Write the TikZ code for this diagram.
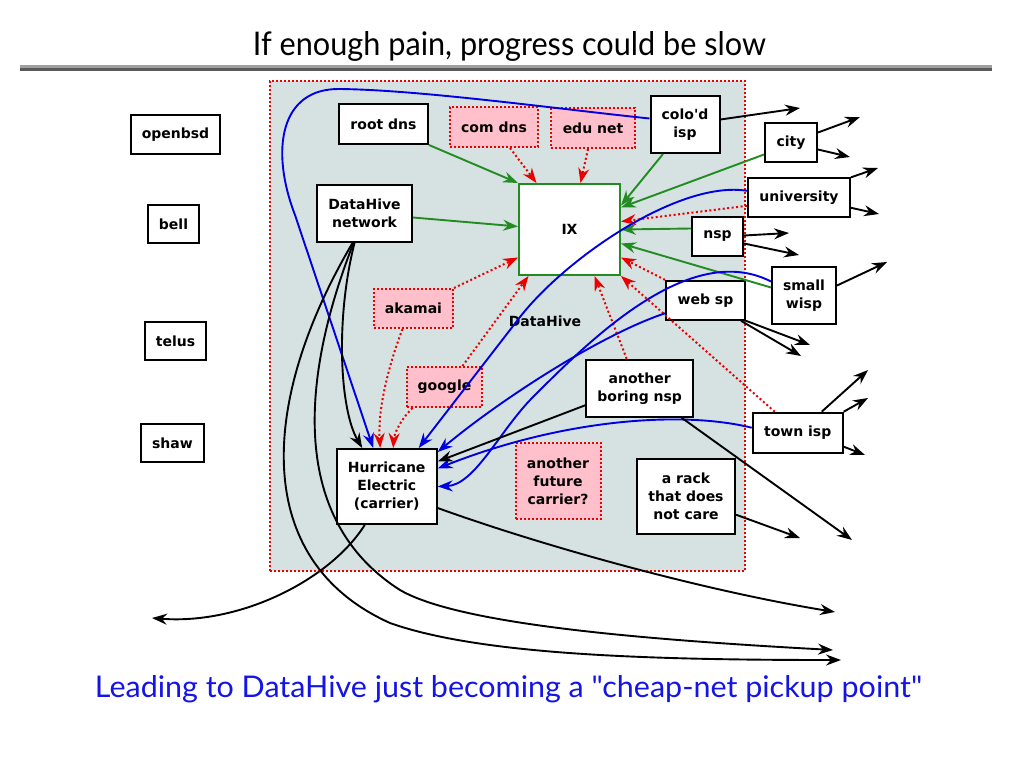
\documentclass[tikz,border=0pt]{standalone}
\usepackage{fontspec}
\usetikzlibrary{arrows.meta}
\newfontfamily\dvs{DejaVu Sans}
\newfontfamily\comicish{Lato}
\definecolor{dhfill}{RGB}{214,226,226}
\definecolor{pinkf}{RGB}{255,192,203}
\definecolor{dred}{RGB}{235,0,0}
\definecolor{dgreen}{RGB}{34,139,34}
\definecolor{dblue}{RGB}{0,0,225}
\definecolor{tblue}{RGB}{20,20,230}
\definecolor{rulelight}{RGB}{160,160,160}
\definecolor{ruledark}{RGB}{90,90,90}
\tikzset{
 lbl/.style={font=\dvs\bfseries\fontsize{14}{18}\selectfont, align=center, inner sep=0pt},
 box/.style={lbl, draw=black, line width=2pt, fill=white},
 pbox/.style={lbl, draw=dred, line width=2pt, dash pattern=on 2pt off 2pt, fill=pinkf},
 gbox/.style={lbl, draw=dgreen, line width=2pt, fill=white},
 region/.style={draw=dred, line width=2pt, dash pattern=on 2pt off 2pt, fill=dhfill, inner sep=0pt},
 arrowtip/.style={-{Stealth[length=15pt,width=11pt,inset=5pt]}},
 blk/.style={arrowtip, draw=black, line width=1.9pt},
 grn/.style={arrowtip, draw=dgreen, line width=1.9pt},
 blu/.style={arrowtip, draw=dblue, line width=1.9pt},
 rdd/.style={-{Stealth[length=15pt,width=11pt,inset=5pt,color=dred]}, draw=dred, line width=2pt, dash pattern=on 2pt off 2.5pt},
}
\begin{document}
\begin{tikzpicture}[x=1pt,y=-1pt]
\useasboundingbox (0,0) rectangle (1024,768);
\fill[white] (0,0) rectangle (1024,768);
% title and rule
\node[anchor=base, inner sep=0pt] (title) at (509.5,55) {\resizebox{513pt}{24pt}{\comicish If enough pain, progress could be slow}};
\fill[rulelight] (20,65) rectangle (992,68);
\fill[ruledark] (20,68) rectangle (992,71);
% region
\node[region, minimum width=475pt, minimum height=490pt] (dhregion) at (507.5,326) {};
% left nodes
\node[box, minimum width=89pt, minimum height=39pt] (openbsd) at (175.5,134.5) {openbsd};
\node[box, minimum width=51pt, minimum height=38pt] (bell) at (173.5,224) {bell};
\node[box, minimum width=61pt, minimum height=38pt] (telus) at (175.5,341) {telus};
\node[box, minimum width=63pt, minimum height=38pt] (shaw) at (172.5,443) {shaw};
% inner nodes
\node[box, minimum width=89pt, minimum height=40pt] (rootdns) at (383.5,124) {root dns};
\node[pbox, minimum width=88pt, minimum height=40pt] (comdns) at (494,127) {com dns};
\node[pbox, minimum width=84pt, minimum height=40pt] (edunet) at (593,128) {edu net};
\node[box, minimum width=69pt, minimum height=57pt] (colo) at (685,124.5) {colo'd\\isp};
\node[box, minimum width=95pt, minimum height=57pt] (dhn) at (364.5,213.5) {DataHive\\network};
\node[gbox, minimum width=101pt, minimum height=91pt] (ix) at (569.5,229.5) {IX};
\node[box, minimum width=51pt, minimum height=39pt] (nsp) at (717.5,236.5) {nsp};
\node[box, minimum width=79pt, minimum height=39pt] (websp) at (705.5,300.3) {web sp};
\node[pbox, minimum width=79pt, minimum height=39pt] (akamai) at (413.5,308.5) {akamai};
\node[lbl] (dhlabel) at (545,321) {DataHive};
\node[pbox, minimum width=75pt, minimum height=40pt] (google) at (444.5,387) {google};
\node[box, minimum width=107pt, minimum height=57pt] (boring) at (639.7,388.3) {another\\boring nsp};
\node[box, minimum width=100pt, minimum height=75pt] (HE) at (386.7,486.5) {Hurricane\\Electric\\(carrier)};
\node[pbox, minimum width=85pt, minimum height=76pt] (future) at (558,481) {another\\future\\carrier?};
\node[box, minimum width=98pt, minimum height=75pt] (rack) at (686,496.7) {a rack\\that does\\not care};
% right nodes
\node[box, minimum width=52pt, minimum height=39pt] (city) at (791,142.5) {city};
\node[box, minimum width=102pt, minimum height=39pt] (univ) at (799,197.8) {university};
\node[box, minimum width=64pt, minimum height=57pt] (wisp) at (804,295.5) {small\\wisp};
\node[box, minimum width=90pt, minimum height=40pt] (town) at (797.7,432.7) {town isp};
% free ends
\coordinate (ecolo) at (800,108);
\coordinate (ecity1) at (860,117);
\coordinate (ecity2) at (850,157);
\coordinate (euniv1) at (878,168);
\coordinate (euniv2) at (879,214);
\coordinate (ensp1) at (789,233);
\coordinate (ensp2) at (799,255);
\coordinate (ewisp) at (887,262);
\coordinate (eweb1) at (810,345);
\coordinate (eweb2) at (801,356);
\coordinate (etown1) at (868,370);
\coordinate (etown2) at (868,398);
\coordinate (etown3) at (865,455);
\coordinate (eboring) at (852,540);
\coordinate (erack) at (800,538);
\coordinate (ehe1) at (835,612);
\coordinate (ehe2) at (152,618);
\coordinate (ein) at (833,650);
\coordinate (eout) at (841,660);
% green
\draw[grn] (rootdns.south east) -- (ix.north west);
\draw[grn] ([yshift=-4pt]dhn.east) -- ([yshift=3pt]ix.west);
\draw[grn] ([xshift=-22pt]colo.south) -- ([yshift=24pt]ix.east);
\draw[grn] ([yshift=-12pt]city.west) -- ([yshift=22pt]ix.east);
\draw[grn] ([yshift=8pt]nsp.west) -- (ix.east);
\draw[grn] ([yshift=8pt]wisp.west) -- ([yshift=-14pt]ix.east);
% red dotted
\draw[rdd] ([xshift=16pt]comdns.south) -- ([xshift=-33pt]ix.north);
\draw[rdd] ([xshift=-5pt]edunet.south) -- ([xshift=11pt]ix.north);
\draw[rdd] ([yshift=-8pt]univ.west) -- ([yshift=8pt]ix.east);
\draw[rdd] (akamai.north east) -- ([yshift=-28pt]ix.west);
\draw[rdd] ([xshift=18pt]google.north) -- ([xshift=-41pt]ix.south);
\draw[rdd] ([xshift=-13pt]boring.north) -- ([xshift=25pt]ix.south);
\draw[rdd] ([xshift=-23pt]town.north) -- (ix.south east);
\draw[rdd] (websp.north west) -- ([yshift=-28pt]ix.east);
\draw[rdd] ([xshift=-11pt]akamai.south) .. controls (385,375) and (378,415) .. ([xshift=-6.5pt]HE.north);
\draw[rdd] ([xshift=-32pt]google.south) .. controls (400,420) and (394,435) .. ([xshift=6.5pt]HE.north);
% blue
\draw[blu] ([yshift=6pt]colo.west) .. controls (550,108) and (420,90) .. (340,89) .. controls (280,88) and (270,150) .. (295,215) -- ([xshift=-13.5pt]HE.north);
\draw[blu] ([yshift=7pt]univ.west) .. controls (680,180) and (567,257) .. (520,317) -- ([xshift=32pt]HE.north);
\draw[blu] ([yshift=-13pt]websp.west) .. controls (600,335) and (500,400) .. ([yshift=34.5pt]HE.east);
\draw[blu] ([yshift=5pt]town.west) .. controls (680,410) and (560,420) .. ([yshift=18pt]HE.east);
\draw[blu] ([yshift=14pt]wisp.west) .. controls (690,240) and (590,340) .. (533,397) .. controls (500,430) and (475,485) .. (HE.east);
% black
\draw[blk] ([yshift=-17pt]boring.west) -- ([yshift=25pt]HE.east);
\draw[blk] ([xshift=-10pt]dhn.south) .. controls (335,320) and (340,410) .. ([xshift=-24.5pt]HE.north);
\draw[blk] ([xshift=-11pt]dhn.south) .. controls (300,380) and (290,520) .. (400,590) .. controls (460,625) and (650,640) .. (ein);
\draw[blk] ([xshift=-12pt]dhn.south) .. controls (260,400) and (250,560) .. (390,623) .. controls (480,655) and (650,660) .. (eout);
\draw[blk] ([yshift=-21.5pt]HE.east) .. controls (540,545) and (700,590) .. (ehe1);
\draw[blk] ([xshift=-22pt]HE.south) .. controls (330,580) and (240,625) .. (ehe2);
\draw[blk] ([yshift=5pt]colo.east) -- (ecolo);
\draw[blk] ([yshift=10pt]city.east) -- (ecity1);
\draw[blk] ([yshift=-7pt]city.east) -- (ecity2);
\draw[blk] (univ.north east) -- (euniv1);
\draw[blk] ([yshift=-10pt]univ.east) -- (euniv2);
\draw[blk] ([yshift=1pt]nsp.east) -- (ensp1);
\draw[blk] ([yshift=-7pt]nsp.east) -- (ensp2);
\draw[blk] ([yshift=10pt]wisp.east) -- (ewisp);
\draw[blk] (websp.south east) -- (eweb1);
\draw[blk] ([xshift=-5pt]websp.south east) -- (eweb2);
\draw[blk] ([xshift=24pt]town.north) -- (etown1);
\draw[blk] (town.north east) -- (etown2);
\draw[blk] ([yshift=-14pt]town.east) -- (etown3);
\draw[blk] ([xshift=42pt]boring.south) -- (eboring);
\draw[blk] ([yshift=-18pt]rack.east) -- (erack);
% footer
\node[anchor=base, inner sep=0pt, text=tblue] (foot) at (508.5,697) {\resizebox{827pt}{22pt}{\comicish Leading to DataHive just becoming a "cheap-net pickup point"}};
\end{tikzpicture}
\end{document}
